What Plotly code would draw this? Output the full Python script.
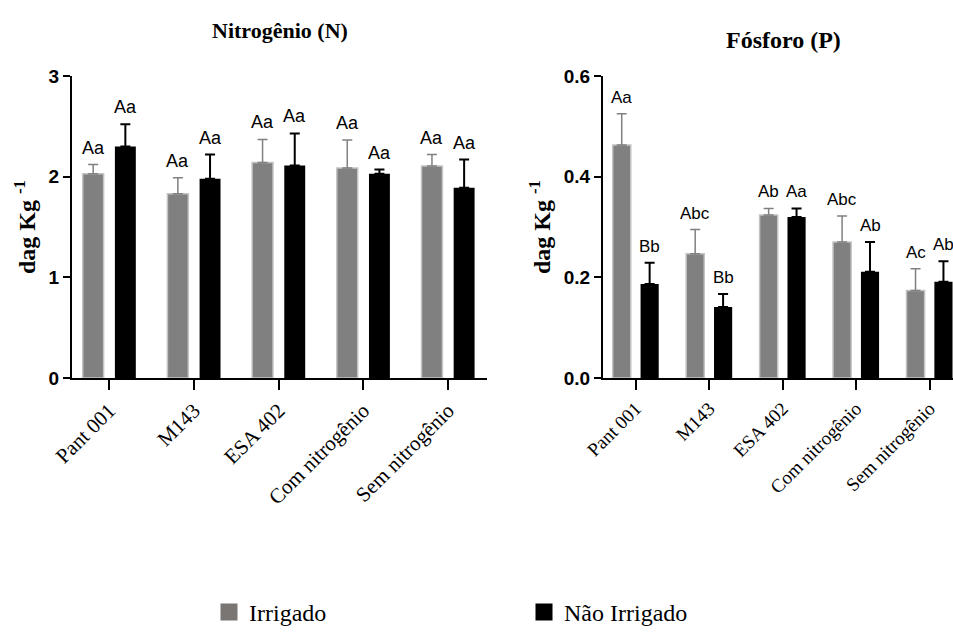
import plotly.graph_objects as go

categories = ["Pant 001", "M143", "ESA 402", "Com nitrogênio", "Sem nitrogênio"]

# Nitrogênio (N)
n_irrigado = [2.03, 1.83, 2.14, 2.085, 2.105]
n_irrigado_err = [0.09, 0.16, 0.23, 0.28, 0.115]
n_nao = [2.30, 1.98, 2.11, 2.03, 1.89]
n_nao_err = [0.22, 0.24, 0.32, 0.04, 0.28]
n_irrigado_lbl = ["Aa", "Aa", "Aa", "Aa", "Aa"]
n_nao_lbl = ["Aa", "Aa", "Aa", "Aa", "Aa"]

# Fósforo (P)
p_irrigado = [0.463, 0.247, 0.324, 0.270, 0.174]
p_irrigado_err = [0.062, 0.048, 0.013, 0.052, 0.043]
p_nao = [0.187, 0.141, 0.320, 0.211, 0.191]
p_nao_err = [0.042, 0.026, 0.017, 0.059, 0.041]
p_irrigado_lbl = ["Aa", "Abc", "Ab", "Abc", "Ac"]
p_nao_lbl = ["Bb", "Bb", "Aa", "Ab", "Ab"]

n_ticks = [0, 1, 2, 3]
p_ticks = [0.0, 0.2, 0.4, 0.6]

GREY = "#808080"
GREY_EDGE = "#c4c4c4"
BLACK = "#000000"
BARGAP = 0.24
BARGROUPGAP = 0.35

fig = go.Figure()


def add_pair(xa, ya, irr, irr_err, nao, nao_err):
    fig.add_trace(go.Bar(
        x=categories, y=irr, xaxis=xa, yaxis=ya, name="Irrigado", showlegend=False,
        marker=dict(color=GREY, line=dict(color=GREY_EDGE, width=1.5)),
        error_y=dict(type="data", array=irr_err, arrayminus=[0] * len(irr_err), symmetric=False,
                     color=GREY, thickness=1.5, width=5),
    ))
    fig.add_trace(go.Bar(
        x=categories, y=nao, xaxis=xa, yaxis=ya, name="Não Irrigado", showlegend=False,
        marker=dict(color=BLACK, line=dict(color=BLACK, width=0)),
        error_y=dict(type="data", array=nao_err, arrayminus=[0] * len(nao_err), symmetric=False,
                     color=BLACK, thickness=2, width=5),
    ))


add_pair("x", "y", n_irrigado, n_irrigado_err, n_nao, n_nao_err)
add_pair("x2", "y2", p_irrigado, p_irrigado_err, p_nao, p_nao_err)

# legend-only entries on a hidden axis pair
fig.add_trace(go.Bar(x=[None], y=[None], xaxis="x3", yaxis="y3", name="Irrigado",
                     marker=dict(color="#7a7674", line=dict(color="#7a7674", width=5))))
fig.add_trace(go.Bar(x=[None], y=[None], xaxis="x3", yaxis="y3", name="Não Irrigado",
                     marker=dict(color=BLACK, line=dict(color=BLACK, width=5))))

off = (1 - BARGAP) / 4.0
annotations = []


def add_labels(xref, yref, vals, errs, lbls, sign, size):
    for i, (v, e, t) in enumerate(zip(vals, errs, lbls)):
        annotations.append(dict(
            x=i + sign * off, y=v + e, xref=xref, yref=yref, text=t, showarrow=False,
            yanchor="bottom", xanchor="center", yshift=5,
            font=dict(family="Liberation Sans", size=size, color="black"),
        ))


add_labels("x", "y", n_irrigado, n_irrigado_err, n_irrigado_lbl, -1, 18)
add_labels("x", "y", n_nao, n_nao_err, n_nao_lbl, 1, 18)
add_labels("x2", "y2", p_irrigado, p_irrigado_err, p_irrigado_lbl, -1, 17)
add_labels("x2", "y2", p_nao, p_nao_err, p_nao_lbl, 1, 17)

annotations.append(dict(x=280 / 953, y=1 - 30 / 635, xref="paper", yref="paper",
                        text="<b>Nitrogênio (N)</b>", showarrow=False, xanchor="center", yanchor="middle",
                        font=dict(family="Liberation Serif", size=22, color="black")))
annotations.append(dict(x=783 / 953, y=1 - 40 / 635, xref="paper", yref="paper",
                        text="<b>Fósforo (P)</b>", showarrow=False, xanchor="center", yanchor="middle",
                        font=dict(family="Liberation Serif", size=24, color="black")))

ydom = [1 - 378 / 635, 1 - 76 / 635]
axis_common = dict(showline=True, linecolor="black", linewidth=2, showgrid=False, zeroline=False,
                   ticks="outside", tickcolor="black", tickwidth=2, automargin=False)

ytitle_font = dict(family="Liberation Serif", size=24, color="black", weight="bold")

fig.update_layout(
    width=953, height=635, autosize=False,
    margin=dict(l=0, r=0, t=0, b=0),
    paper_bgcolor="white", plot_bgcolor="white",
    barmode="group", bargap=BARGAP, bargroupgap=BARGROUPGAP,
    annotations=annotations,
    xaxis=dict(domain=[72 / 953, 487 / 953], range=[-0.44, 4.46], type="category",
               tickangle=-45, ticklen=10,
               tickfont=dict(family="Liberation Serif", size=21, color="black"), anchor="y", **axis_common),
    yaxis=dict(domain=ydom, range=[0, 3], tickvals=n_ticks, ticklen=7, anchor="x",
               tickfont=dict(family="Liberation Sans", size=19, color="black", weight="bold"),
               title=dict(text="dag Kg <sup>-1</sup>", font=ytitle_font, standoff=6), **axis_common),
    xaxis2=dict(domain=[603 / 953, 1.0], range=[-0.445, 4.32], type="category",
                tickangle=-45, ticklen=10,
                tickfont=dict(family="Liberation Serif", size=19, color="black"), anchor="y2", **axis_common),
    yaxis2=dict(domain=ydom, range=[0, 0.6], tickvals=p_ticks, tickformat=".1f", ticklen=7, anchor="x2",
                tickfont=dict(family="Liberation Sans", size=19, color="black", weight="bold"),
                title=dict(text="dag Kg <sup>-1</sup>", font=ytitle_font, standoff=6), **axis_common),
    xaxis3=dict(domain=[0, 0.01], visible=False, fixedrange=True),
    yaxis3=dict(domain=[0, 0.01], visible=False, fixedrange=True, anchor="x3"),
    legend=dict(orientation="h", x=209 / 953, xanchor="left", y=0, yanchor="bottom",
                entrywidth=270, entrywidthmode="pixels", bgcolor="rgba(0,0,0,0)",
                font=dict(family="Liberation Serif", size=24, color="black")),
)

fig.write_html("out.html", config={"displayModeBar": False},
               post_script="document.body.style.margin='0';document.body.style.overflow='hidden';")
